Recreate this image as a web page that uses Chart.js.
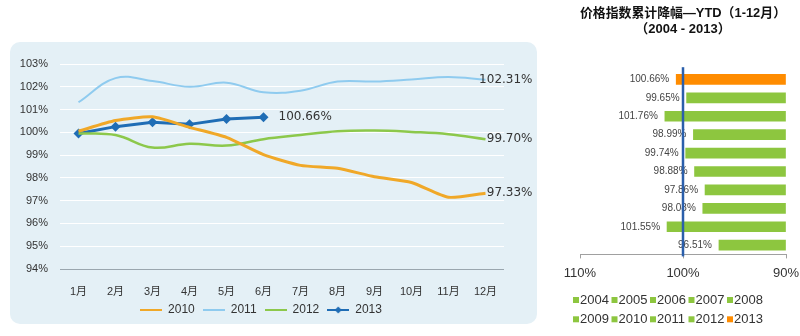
<!DOCTYPE html>
<html><head><meta charset="utf-8">
<script src="https://cdn.jsdelivr.net/npm/chart.js@4.4.1/dist/chart.umd.min.js"></script>
<style>
html,body{margin:0;padding:0;background:#fff;overflow:hidden;width:800px;height:336px;}
#panel{position:absolute;left:10px;top:42px;width:527px;height:282px;border-radius:10px;background:#e4f0f6;}
#wl{position:absolute;left:0;top:0;width:556px;height:336px;}
#wr{position:absolute;left:560px;top:0;width:240px;height:336px;}
</style></head><body>
<div id="panel"></div>
<div id="wl"><canvas id="cl"></canvas></div>
<div id="wr"><canvas id="cr"></canvas></div>
<script>
// ---- data (left line chart) ----
const months = ['1月','2月','3月','4月','5月','6月','7月','8月','9月','10月','11月','12月'];
const seriesNames = ['2010','2011','2012','2013'];
const s2010 = [100.05, 100.52, 100.68, 100.22, 99.78, 99.02, 98.55, 98.42, 98.05, 97.80, 97.15, 97.33];
const s2011 = [101.32, 102.38, 102.25, 102.00, 102.18, 101.76, 101.83, 102.23, 102.23, 102.32, 102.43, 102.31];
const s2012 = [99.95, 99.88, 99.33, 99.50, 99.42, 99.70, 99.88, 100.05, 100.08, 100.02, 99.92, 99.70];
const s2013 = [99.95, 100.25, 100.44, 100.35, 100.59, 100.66];
const yMin = 94, yMax = 103;

// ---- data (right bar chart) ----
const ytdYears = ['2013','2012','2011','2010','2009','2008','2007','2006','2005','2004'];
const ytdValues = [100.66, 99.65, 101.76, 98.99, 99.74, 98.88, 97.86, 98.08, 101.55, 96.51];
const ytdTicks = [110, 100, 90];
const ytdTitle = ['价格指数累计降幅—YTD（1-12月）', '（2004 - 2013）'];

Chart.defaults.font.family = '"Liberation Sans", Arial, "Noto Sans CJK SC", sans-serif';
Chart.defaults.color = '#333';

const lineColors = ['#f0a828', '#8fcbef', '#8cc84b', '#1f6db5'];

function legendIcon(color, diamond) {
  const c = document.createElement('canvas');
  c.width = 22; c.height = 10;
  const g = c.getContext('2d');
  g.strokeStyle = color; g.lineWidth = 2;
  g.beginPath(); g.moveTo(0, 5); g.lineTo(22, 5); g.stroke();
  if (diamond) {
    g.fillStyle = color;
    g.beginPath(); g.moveTo(11, 1.5); g.lineTo(14.5, 5); g.lineTo(11, 8.5); g.lineTo(7.5, 5); g.closePath(); g.fill();
  }
  return c;
}

const endLabels = {
  id: 'endLabels',
  afterDatasetsDraw(chart, args, opts) {
    const ctx = chart.ctx;
    ctx.save();
    ctx.font = '12px "DejaVu Sans", Verdana, sans-serif';
    ctx.fillStyle = '#333';
    ctx.textBaseline = 'middle';
    opts.items.forEach(it => {
      const meta = chart.getDatasetMeta(it.ds);
      const data = chart.data.datasets[it.ds].data;
      const idx = data.length - 1;
      const el = meta.data[idx];
      ctx.textAlign = it.align;
      ctx.fillText(data[idx].toFixed(2) + '%', el.x + it.dx, el.y);
    });
    ctx.restore();
  }
};

new Chart(document.getElementById('cl'), {
  type: 'line',
  data: {
    labels: months,
    datasets: [
      { label: seriesNames[0], data: s2010, borderColor: lineColors[0], backgroundColor: lineColors[0], borderWidth: 3, tension: 0.2, pointRadius: 0 },
      { label: seriesNames[1], data: s2011, borderColor: lineColors[1], backgroundColor: lineColors[1], borderWidth: 2, tension: 0.4, pointRadius: 0 },
      { label: seriesNames[2], data: s2012, borderColor: lineColors[2], backgroundColor: lineColors[2], borderWidth: 2.5, tension: 0.4, pointRadius: 0 },
      { label: seriesNames[3], data: s2013, borderColor: lineColors[3], backgroundColor: lineColors[3], borderWidth: 3, tension: 0, pointStyle: 'rectRot', pointRadius: 5, pointBorderWidth: 0 }
    ]
  },
  options: {
    responsive: true, maintainAspectRatio: false, animation: false, devicePixelRatio: 1,
    layout: { padding: { left: 18, right: 52, top: 64, bottom: 10 } },
    scales: {
      x: {
        offset: true,
        afterFit(s) { s.height = 27; },
        grid: { display: false },
        border: { display: false },
        ticks: { font: { size: 11 }, color: '#333', padding: 8, maxRotation: 0, autoSkip: false }
      },
      y: {
        min: yMin, max: yMax,
        afterFit(s) { s.width = 42; },
        grid: { color: c => (c.tick && c.tick.value === yMin) ? '#9aa6ae' : '#ffffff', lineWidth: 1, drawTicks: false },
        border: { display: false },
        ticks: { stepSize: 1, padding: 12, font: { size: 11 }, color: '#333', callback: v => v + '%' }
      }
    },
    plugins: {
      legend: {
        position: 'bottom',
        labels: {
          usePointStyle: true, pointStyleWidth: 22, padding: 8,
          font: { size: 12 }, color: '#333',
          generateLabels(chart) {
            const items = Chart.defaults.plugins.legend.labels.generateLabels(chart);
            items.forEach(it => {
              const ds = chart.data.datasets[it.datasetIndex];
              it.pointStyle = legendIcon(ds.borderColor, it.datasetIndex === 3);
            });
            return items;
          }
        }
      },
      tooltip: { enabled: false },
      endLabels: {
        items: [
          { ds: 0, align: 'right', dx: 47 },
          { ds: 1, align: 'right', dx: 47 },
          { ds: 2, align: 'right', dx: 47 },
          { ds: 3, align: 'left', dx: 15 }
        ]
      }
    }
  },
  plugins: [endLabels]
});

// ---- right chart ----
const barGreen = '#8dc63f', barOrange = '#ff8c00';
const legendYears = ytdYears.slice().reverse();
const barDatasets = legendYears.map(y => {
  const idx = ytdYears.indexOf(y);
  const arr = ytdYears.map(() => null);
  arr[idx] = ytdValues[idx];
  const col = y === '2013' ? barOrange : barGreen;
  return { label: y, data: arr, backgroundColor: col, borderWidth: 0, base: 90, barThickness: 10, grouped: false };
});

const barDecor = {
  id: 'barDecor',
  afterDatasetsDraw(chart) {
    const ctx = chart.ctx;
    const xs = chart.scales.x;
    const area = chart.chartArea;
    ctx.save();
    ctx.font = '10px "Liberation Sans", Arial, sans-serif';
    ctx.fillStyle = '#444';
    ctx.textAlign = 'right';
    ctx.textBaseline = 'middle';
    chart.data.datasets.forEach((ds, di) => {
      const meta = chart.getDatasetMeta(di);
      ds.data.forEach((v, i) => {
        if (v == null) return;
        const el = meta.data[i];
        ctx.fillText(v.toFixed(2) + '%', Math.min(el.x, el.base) - 7, el.y);
      });
    });
    const x100 = xs.getPixelForValue(100);
    ctx.strokeStyle = '#2b5fab';
    ctx.lineWidth = 2.5;
    ctx.beginPath(); ctx.moveTo(x100, area.top - 3); ctx.lineTo(x100, area.bottom + 2); ctx.stroke();
    ctx.restore();
  },
  afterDraw(chart) {
    const ctx = chart.ctx;
    ctx.save();
    ctx.font = '13px "Liberation Sans", Arial, sans-serif';
    ctx.textBaseline = 'middle';
    ctx.textAlign = 'left';
    chart.data.datasets.forEach((ds, i) => {
      const row = Math.floor(i / 5), col = i % 5;
      const x = 13 + col * 38.5, y = 300 + row * 19.3;
      ctx.fillStyle = ds.backgroundColor;
      ctx.fillRect(x, y - 3, 6, 6);
      ctx.fillStyle = '#333';
      ctx.fillText(ds.label, x + 7, y + 0.5);
    });
    ctx.restore();
  }
};

new Chart(document.getElementById('cr'), {
  type: 'bar',
  data: { labels: ytdYears, datasets: barDatasets },
  options: {
    indexAxis: 'y',
    responsive: true, maintainAspectRatio: false, animation: false, devicePixelRatio: 1,
    layout: { padding: { left: 20, right: 14, top: 0, bottom: 48 } },
    scales: {
      x: {
        min: 90, max: 110, reverse: true,
        afterBuildTicks(s) { s.ticks = ytdTicks.map(v => ({ value: v })); },
        afterFit(s) { s.paddingLeft = 0; s.paddingRight = 0; },
        grid: { drawOnChartArea: false, drawTicks: true, tickLength: 4, color: '#a0a0a0' },
        border: { display: true, color: '#a0a0a0' },
        ticks: { padding: 7, font: { size: 13 }, color: '#333', callback: v => v + '%' }
      },
      y: { display: false }
    },
    plugins: {
      legend: { display: false },
      tooltip: { enabled: false },
      title: {
        display: true, text: ytdTitle, color: '#111',
        font: { size: 13, weight: 'bold', lineHeight: 1.2, family: '"Liberation Sans", Arial, "Noto Sans CJK SC", sans-serif' },
        padding: { top: 6, bottom: 33 }
      }
    }
  },
  plugins: [barDecor]
});
</script>
</body></html>
